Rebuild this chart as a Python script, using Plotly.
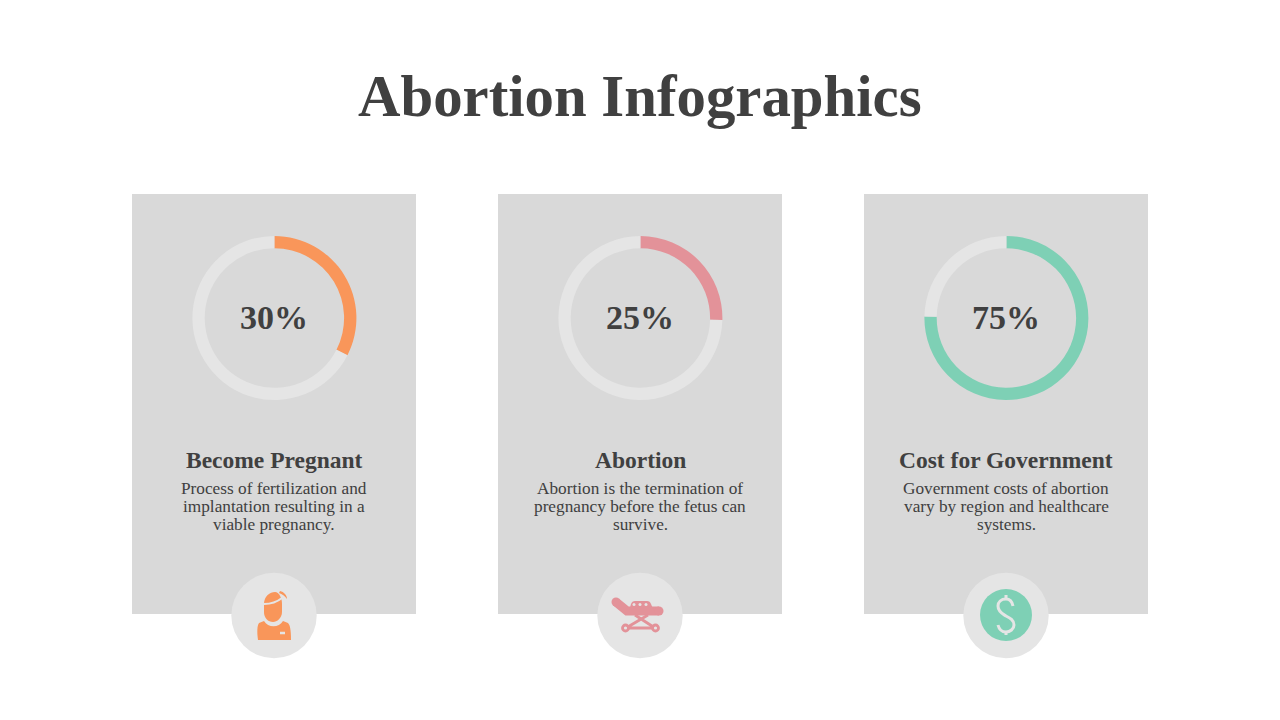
import plotly.graph_objects as go

# chart data
titles = ["Become Pregnant", "Abortion", "Cost for Government"]
percent_labels = ["30%", "25%", "75%"]
# the drawn arcs don't quite agree with their labels, these are read off the rings
arc_values = [32.5, 25.4, 75.3]
colors = ["#F9965A", "#E39299", "#7ED0B5"]
descriptions = [
    ["Process of fertilization and", "implantation resulting in a", "viable pregnancy."],
    ["Abortion is the termination of", "pregnancy before the fetus can", "survive."],
    ["Government costs of abortion", "vary by region and healthcare", "systems."],
]
card_left = [132, 498, 864]
centers = [274, 640, 1006]

W, H = 1280, 720
SERIF = "Liberation Serif"
TEXT = "#404040"
TRACK = "#E5E5E5"
CARD = "#D9D9D9"

fig = go.Figure()
shapes = []
notes = []


def label(x, y, text, size, bold=False, color=TEXT):
    notes.append(dict(x=x, y=y, xref="x", yref="y", text=text, showarrow=False,
                      xanchor="center", yanchor="middle",
                      font=dict(family=SERIF, size=size, color=color,
                                weight="bold" if bold else "normal")))


def path(d, fill=None, line=None, width=0):
    shapes.append(dict(type="path", path=d, xref="x", yref="y",
                       fillcolor=fill or "rgba(0,0,0,0)",
                       line=dict(color=line or "rgba(0,0,0,0)", width=width)))


def circle(cx, cy, r, fill=None, line=None, width=0):
    shapes.append(dict(type="circle", xref="x", yref="y", x0=cx - r, x1=cx + r, y0=cy - r, y1=cy + r,
                       fillcolor=fill or "rgba(0,0,0,0)",
                       line=dict(color=line or "rgba(0,0,0,0)", width=width)))


# cards, rings and text
for i in range(3):
    cx = centers[i]
    # cards go under the pies, shapes default to being on top
    shapes.append(dict(type="rect", xref="x", yref="y", x0=card_left[i], x1=card_left[i] + 284,
                       y0=194, y1=614, fillcolor=CARD, line_width=0, layer="below"))
    ring_x = cx + 0.4
    fig.add_trace(go.Pie(values=[arc_values[i], 100 - arc_values[i]], hole=0.85, sort=False,
                         direction="clockwise", rotation=0, textinfo="none", showlegend=False,
                         marker=dict(colors=[colors[i], TRACK], line=dict(width=0)),
                         domain=dict(x=[(ring_x - 82) / W, (ring_x + 82) / W],
                                     y=[1 - 400 / H, 1 - 236 / H])))
    label(cx, 317, percent_labels[i], 34, bold=True)
    label(cx, 459.5, titles[i], 23.5, bold=True)
    for j, line_text in enumerate(descriptions[i]):
        label(cx, 488 + 18 * j, line_text, 17.25)
    circle(cx, 615.5, 42.7, fill=TRACK)

label(640, 96.5, "Abortion Infographics", 58.8, bold=True)

# person icon
c = colors[0]
path("M 264 604 C 264 596 270 592 275 592 C 279 592 282 598 282 604 L 282 612 "
     "C 282 618 277 622 273 622 C 268 622 264 618 264 612 Z", fill=c)
path("M 264 604 C 270 604 277 602 282 598", line=TRACK, width=2)
path("M 280 591 C 284 592 287 595 287 599 C 285 596 282 594 279 593 Z", fill=c)
path("M 264 621 C 268 628 279 628 283 621 L 288 623 C 290 625 291 630 291 640 "
     "L 258 640 C 257 632 257 626 259 623 Z", fill=c)
path("M 280 633 L 285 633", line=TRACK, width=2.5)

# stretcher icon
c = colors[1]
path("M 616 602 L 627 611 L 659 611", line=c, width=9)
circle(616, 602, 4.5, fill=c)
circle(659, 611, 4.5, fill=c)
path("M 629 611 L 631 604 Q 632 601 635 601 L 647 601 Q 650 601 651 604 L 654 611 Z", fill=c)
for dot_x in [634, 640, 646]:
    circle(dot_x, 604.5, 1.5, fill=TRACK)
path("M 635 615 L 655 628 M 648 615 L 626 628 M 626 628 L 655 628", line=c, width=2.8)
circle(625.5, 628, 3, fill=TRACK, line=c, width=2.8)
circle(655.5, 628, 3, fill=TRACK, line=c, width=2.8)

# dollar icon
c = colors[2]
circle(1006, 615, 26, fill=c)
path("M 1013 606 C 1012 601 1009 599 1006 599 C 1001 599 998 602 998 606 C 998 612 1003 614 1006 616 "
     "C 1010 618 1014 620 1014 625 C 1014 629 1010 632 1006 632 C 1002 632 999 629 998 625",
     line=TRACK, width=3)
path("M 1006 595 L 1006 600 M 1006 631 L 1006 635", line=TRACK, width=3)

fig.update_layout(
    width=W, height=H, margin=dict(l=0, r=0, t=0, b=0),
    paper_bgcolor="white", plot_bgcolor="white",
    xaxis=dict(range=[0, W], visible=False, fixedrange=True),
    yaxis=dict(range=[H, 0], visible=False, fixedrange=True),
    shapes=shapes, annotations=notes, showlegend=False,
)

# page has a default 8px body margin otherwise
fig.write_html("out.html", config={"displayModeBar": False},
               post_script="document.body.style.margin='0';")
